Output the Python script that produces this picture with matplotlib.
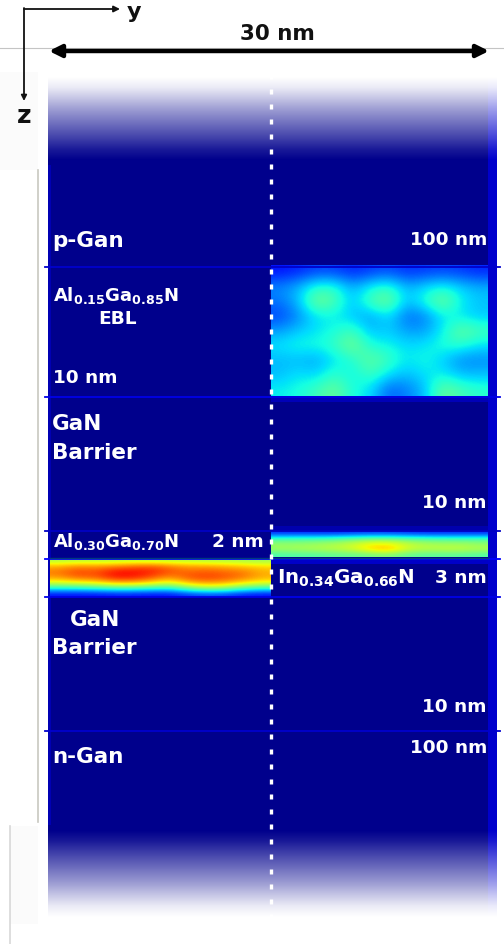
import numpy as np
import matplotlib
matplotlib.use('Agg')
import matplotlib.pyplot as plt
from matplotlib.patches import Rectangle

plt.rcParams['mathtext.default'] = 'regular'

# emission intensity, 0-1 on the jet scale
ebl_intensity = [
    [0.14, 0.16, 0.19, 0.19, 0.16, 0.18, 0.20, 0.17, 0.18, 0.19, 0.18, 0.16],
    [0.26, 0.30, 0.40, 0.40, 0.29, 0.37, 0.41, 0.30, 0.34, 0.38, 0.33, 0.30],
    [0.24, 0.31, 0.50, 0.45, 0.31, 0.44, 0.50, 0.31, 0.39, 0.50, 0.36, 0.32],
    [0.19, 0.26, 0.35, 0.36, 0.32, 0.28, 0.35, 0.23, 0.25, 0.36, 0.35, 0.32],
    [0.28, 0.32, 0.35, 0.38, 0.43, 0.31, 0.33, 0.28, 0.28, 0.36, 0.48, 0.43],
    [0.35, 0.38, 0.38, 0.41, 0.50, 0.38, 0.37, 0.34, 0.35, 0.39, 0.40, 0.35],
    [0.31, 0.31, 0.29, 0.35, 0.39, 0.47, 0.42, 0.35, 0.38, 0.33, 0.26, 0.26],
    [0.31, 0.35, 0.33, 0.41, 0.36, 0.43, 0.35, 0.31, 0.35, 0.36, 0.31, 0.31],
    [0.36, 0.38, 0.42, 0.48, 0.38, 0.35, 0.22, 0.25, 0.31, 0.48, 0.43, 0.40],
]
algan_well = [
    [0.56, 0.57, 0.57, 0.57, 0.58, 0.58, 0.57, 0.57, 0.56, 0.56, 0.55, 0.54],
    [0.72, 0.76, 0.75, 0.77, 0.80, 0.82, 0.78, 0.74, 0.74, 0.72, 0.70, 0.68],
    [0.78, 0.84, 0.82, 0.90, 0.90, 0.88, 0.82, 0.80, 0.82, 0.80, 0.78, 0.72],
    [0.74, 0.80, 0.80, 0.88, 0.88, 0.82, 0.74, 0.82, 0.84, 0.82, 0.78, 0.72],
    [0.60, 0.62, 0.64, 0.70, 0.70, 0.66, 0.60, 0.70, 0.74, 0.72, 0.66, 0.62],
    [0.36, 0.36, 0.38, 0.40, 0.40, 0.38, 0.36, 0.46, 0.52, 0.50, 0.42, 0.38],
    [0.14, 0.14, 0.14, 0.15, 0.15, 0.14, 0.14, 0.18, 0.20, 0.19, 0.15, 0.14],
]
ingan_well = [
    [0.17, 0.17, 0.17, 0.17, 0.18, 0.19, 0.19, 0.18, 0.17, 0.17, 0.17, 0.17],
    [0.44, 0.44, 0.44, 0.45, 0.48, 0.50, 0.50, 0.47, 0.45, 0.44, 0.44, 0.44],
    [0.53, 0.53, 0.54, 0.56, 0.59, 0.65, 0.65, 0.59, 0.56, 0.55, 0.55, 0.53],
    [0.54, 0.55, 0.56, 0.57, 0.60, 0.68, 0.72, 0.60, 0.57, 0.58, 0.58, 0.56],
    [0.44, 0.45, 0.45, 0.47, 0.47, 0.49, 0.51, 0.47, 0.46, 0.46, 0.46, 0.45],
]
fade_strength = [1.0, 0.92, 0.78, 0.63, 0.50, 0.37, 0.24, 0.10, 0.0]
interface_rows = [267, 397, 531, 559, 597, 731]
interface_levels = [0.07, 0.09, 0.06, 0.12, 0.09, 0.07]

NAVY = (0, 0, 0.55)
EDGE_BLUE = (0, 0, 0.80)


def fade_cells(base):
    # white to base colour, top row is the white end
    strength = np.array(fade_strength)[:, None, None]
    return strength + (1 - strength) * np.array(base)[None, None, :]


fig = plt.figure(figsize=(5.04, 9.44), dpi=100)
ax = fig.add_axes([0, 0, 1, 1])

# faint scanning leftovers from the source page
ax.plot([0, 504], [48, 48], color='#c4c4c4', lw=0.8, zorder=1)
ax.plot([38, 38], [170, 822], color='#c8c8c0', lw=1.2, zorder=1)
ax.plot([10, 10], [826, 944], color='#d8d8d8', lw=1.2, zorder=1)
ax.add_patch(Rectangle((0, 72), 38, 98, color='#fbfbfb', lw=0, zorder=0))
ax.add_patch(Rectangle((10, 826), 28, 98, color='#fbfbfb', lw=0, zorder=0))

# the stack itself
ax.add_patch(Rectangle((48, 165), 440, 660, color=NAVY, lw=0, zorder=2))
ax.add_patch(Rectangle((488, 165), 9, 660, color=EDGE_BLUE, lw=0, zorder=2))
ax.add_patch(Rectangle((48, 165), 2.5, 660, color=(0, 0, 0.70), lw=0, zorder=2))

jet_opts = dict(cmap='jet', vmin=0, vmax=1, interpolation='bicubic', aspect='auto', zorder=3)
ax.imshow(ebl_intensity, extent=(271, 488, 396, 265), **jet_opts)
ax.imshow(algan_well, extent=(50, 271, 597, 558), **jet_opts)
ax.imshow(ingan_well, extent=(271, 488, 557, 531), **jet_opts)

for row, level in zip(interface_rows, interface_levels):
    ax.plot([45, 500], [row, row], color=plt.cm.jet(level), lw=1.3, zorder=4)
ax.plot([50, 488], [558, 558], color='#003a80', lw=1.0, zorder=4)
# glow just under the bright layers
ax.add_patch(Rectangle((271, 397), 217, 5, color=(0, 0, 0.72), lw=0, zorder=3))
ax.add_patch(Rectangle((271, 559), 217, 5, color=(0, 0, 0.78), lw=0, zorder=3))
ax.add_patch(Rectangle((271, 526), 217, 5, color=(0, 0, 0.68), lw=0, zorder=3))

# white fades at both ends of the stack
fade_opts = dict(interpolation='bilinear', aspect='auto', zorder=5)
ax.imshow(fade_cells(NAVY), extent=(48, 488, 165, 72), **fade_opts)
ax.imshow(fade_cells(EDGE_BLUE), extent=(488, 497, 165, 72), **fade_opts)
ax.imshow(fade_cells(NAVY), extent=(48, 488, 825, 922), **fade_opts)
ax.imshow(fade_cells(EDGE_BLUE), extent=(488, 497, 825, 922), **fade_opts)

ax.set_xlim(0, 504)
ax.set_ylim(944, 0)
ax.axis('off')

# dotted centre line
ax.plot([271, 271], [74, 922], color='white', lw=2.4, linestyle=(0, (1.5, 3.0)), zorder=6)

# axes cross and width arrow
ax.annotate('', xy=(120, 9), xytext=(24, 9), zorder=7,
            arrowprops=dict(arrowstyle='-|>', color='#111111', lw=1.3, mutation_scale=9,
                            shrinkA=0, shrinkB=0))
ax.annotate('', xy=(24, 101), xytext=(24, 8), zorder=7,
            arrowprops=dict(arrowstyle='-|>', color='#111111', lw=1.3, mutation_scale=8,
                            shrinkA=0, shrinkB=0))
ax.annotate('', xy=(489, 51), xytext=(49, 51), zorder=7,
            arrowprops=dict(arrowstyle='<|-|>', color='black', lw=3.2, mutation_scale=18,
                            shrinkA=0, shrinkB=0))

dark = dict(color='#111111', fontweight='bold', zorder=8)
ax.text(134, 12, 'y', fontsize=16, ha='center', va='center', **dark)
ax.text(24, 116, 'z', fontsize=18, ha='center', va='center', **dark)
ax.text(277, 34, '30 nm', fontsize=15.5, ha='center', va='center', **dark)

light = dict(color='white', fontweight='bold', zorder=8, va='center')
big = 15.5
small = 13.3
ax.text(52, 241, 'p-Gan', fontsize=big, **light)
ax.text(487, 240, '100 nm', fontsize=small, ha='right', **light)
ax.text(53, 295, 'Al$_{0.15}$Ga$_{0.85}$N', fontsize=13, **light)
ax.text(98, 319, 'EBL', fontsize=small, **light)
ax.text(53, 378, '10 nm', fontsize=small, **light)
ax.text(52, 424, 'GaN', fontsize=big, **light)
ax.text(52, 453, 'Barrier', fontsize=big, **light)
ax.text(487, 503, '10 nm', fontsize=small, ha='right', **light)
ax.text(53, 542, 'Al$_{0.30}$Ga$_{0.70}$N', fontsize=13, **light)
ax.text(264, 542, '2 nm', fontsize=small, ha='right', **light)
ax.text(277, 578, 'In$_{0.34}$Ga$_{0.66}$N', fontsize=14.3, **light)
ax.text(487, 578, '3 nm', fontsize=small, ha='right', **light)
ax.text(70, 620, 'GaN', fontsize=big, **light)
ax.text(52, 648, 'Barrier', fontsize=big, **light)
ax.text(487, 707, '10 nm', fontsize=small, ha='right', **light)
ax.text(487, 748, '100 nm', fontsize=small, ha='right', **light)
ax.text(52, 757, 'n-Gan', fontsize=big, **light)

fig.savefig('out.png', dpi=100)
